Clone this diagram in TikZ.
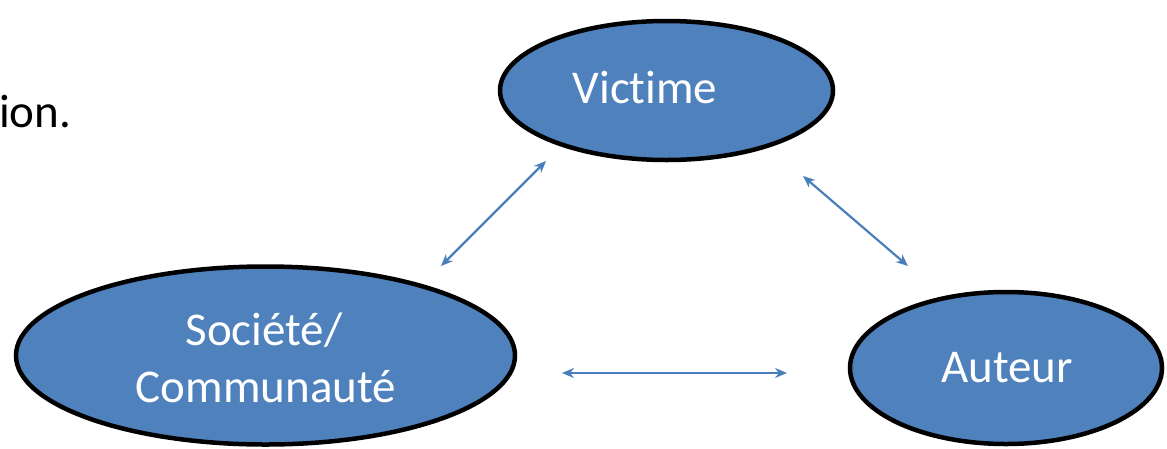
\documentclass[tikz,border=0pt]{standalone}
\usepackage{fontspec}
\setmainfont[RawFeature={-liga}]{Carlito}
\usetikzlibrary{shapes.geometric,arrows.meta}
\definecolor{bfill}{HTML}{4F81BD}
\definecolor{aline}{HTML}{4A7EBB}
\tikzset{
  blob/.style={ellipse,draw=black,line width=4.5pt,fill=bfill,inner sep=0pt},
  lbl/.style={text=white,font=\fontsize{47}{57}\selectfont,inner sep=0pt,anchor=base},
  link/.style={draw=aline,line width=2.2pt,{Stealth[length=12pt,width=10pt]}-{Stealth[length=12pt,width=10pt]}}
}
\begin{document}
\begin{tikzpicture}[x=1pt,y=-1pt]
\useasboundingbox (0,0) rectangle (1167,448);
\node[font=\fontsize{47}{57}\selectfont,inner sep=0pt,anchor=base west] (frag) at (-1,127) {ion.};
\node[blob,minimum width=333pt,minimum height=139pt] (vic) at (666.5,90.5) {};
\node[blob,minimum width=499pt,minimum height=178pt] (soc) at (265.5,355.5) {};
\node[blob,minimum width=312pt,minimum height=152pt] (aut) at (1006,368) {};
\node[lbl] (tvic) at (645,103) {Victime};
\node[lbl] (tsoc1) at (264,345) {Société/};
\node[lbl] (tsoc2) at (266,402) {Communauté};
\node[lbl] (taut) at (1007,382) {Auteur};
\coordinate (p1) at (441,266);
\coordinate (p2) at (546,161);
\coordinate (p3) at (803,176);
\coordinate (p4) at (908,266);
\coordinate (p5) at (562,373);
\coordinate (p6) at (787,373);
\draw[link] (p1) -- (p2);
\draw[link] (p3) -- (p4);
\draw[link] (p5) -- (p6);
\end{tikzpicture}
\end{document}
